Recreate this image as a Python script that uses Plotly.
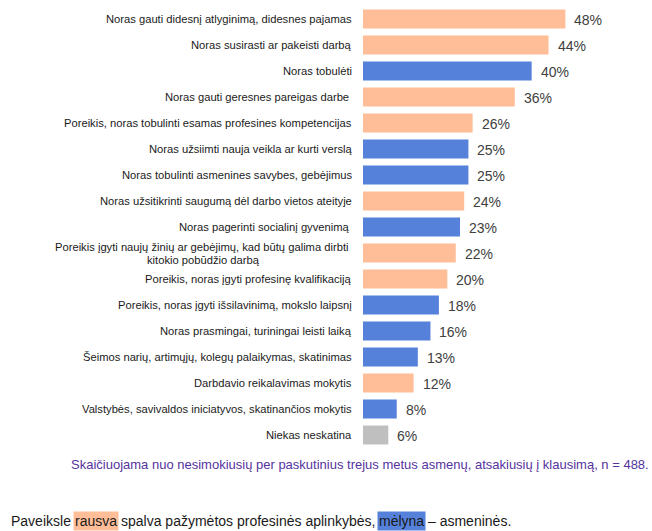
import unicodedata
import plotly.graph_objects as go

categories = [
    "Noras gauti didesnį atlyginimą, didesnes pajamas",
    "Noras susirasti ar pakeisti darbą",
    "Noras tobulėti",
    "Noras gauti geresnes pareigas darbe\u00a0",
    "Poreikis, noras tobulinti esamas profesines kompetencijas",
    "Noras užsiimti nauja veikla ar kurti verslą",
    "Noras tobulinti asmenines savybes, gebėjimus",
    "Noras užsitikrinti saugumą dėl darbo vietos ateityje",
    "Noras pagerinti socialinį gyvenimą\u00a0",
    "Poreikis įgyti naujų žinių ar gebėjimų, kad būtų galima dirbti<br>kitokio pobūdžio darbą",
    "Poreikis, noras įgyti profesinę kvalifikaciją",
    "Poreikis, noras įgyti išsilavinimą, mokslo laipsnį",
    "Noras prasmingai, turiningai leisti laiką",
    "Šeimos narių, artimųjų, kolegų palaikymas, skatinimas",
    "Darbdavio reikalavimas mokytis",
    "Valstybės, savivaldos iniciatyvos, skatinančios mokytis",
    "Niekas neskatina",
]
values = [48, 44, 40, 36, 26, 25, 25, 24, 23, 22, 20, 18, 16, 13, 12, 8, 6]
groups = ["prof", "prof", "pers", "prof", "prof", "pers", "pers", "prof", "pers",
          "prof", "prof", "pers", "pers", "pers", "prof", "pers", "none"]
value_labels = [f"{v}%" for v in values]

footnote = "Skaičiuojama nuo nesimokiusių per paskutinius trejus metus asmenų, atsakiusių į klausimą, n = 488."
legend_parts = [
    ("Paveiksle", None),
    ("rausva", "prof"),
    ("spalva pažymėtos profesinės aplinkybės,", None),
    ("mėlyna", "pers"),
    ("– asmeninės.", None),
]

COLORS = {"prof": "#FFBE98", "pers": "#5581DA", "none": "#BFBFBF"}
FONT = "Liberation Sans, Arial, sans-serif"

W, H = 652, 531
ML, MR, MT, MB = 363, 36, 6, 83
PW, PH = W - ML - MR, H - MT - MB


def px_x(px):
    return (px - ML) / PW


def px_y(py):
    return 1 - (py - MT) / PH


ARIAL = {
    'a': 556, 'b': 556, 'c': 500, 'd': 556, 'e': 556, 'f': 278, 'g': 556, 'h': 556,
    'i': 222, 'j': 222, 'k': 500, 'l': 222, 'm': 833, 'n': 556, 'o': 556, 'p': 556,
    'q': 556, 'r': 333, 's': 500, 't': 278, 'u': 556, 'v': 500, 'w': 722, 'x': 500,
    'y': 500, 'z': 500, ' ': 278, ',': 278, '.': 278, '\u2013': 556, 'P': 667,
}


def text_width(s, size):
    total = 0
    for ch in s:
        base = unicodedata.normalize("NFD", ch)[0]
        total += ARIAL.get(base, 556)
    return total * size / 1000


fig = go.Figure()
fig.add_trace(go.Bar(
    x=values, y=categories, orientation="h",
    marker=dict(color=[COLORS[g] for g in groups], line=dict(width=0)),
    hoverinfo="skip", showlegend=False,
))

annotations = []
LABEL_SIZE = 11.2
for cat, v, lab in zip(categories, values, value_labels):
    if "<br>" in cat:
        l1, l2 = cat.split("<br>")
        w1 = text_width(l1, LABEL_SIZE)
        annotations.append(dict(x=0, xref="paper", y=cat, yref="y", text=l1,
                                xanchor="right", yanchor="middle", xshift=-12, yshift=6,
                                showarrow=False, font=dict(size=LABEL_SIZE, color="#1a1a1a", family=FONT)))
        annotations.append(dict(x=0, xref="paper", y=cat, yref="y", text=l2,
                                xanchor="center", yanchor="middle", xshift=-12 - w1 / 2 - 1, yshift=-7,
                                showarrow=False, font=dict(size=LABEL_SIZE, color="#1a1a1a", family=FONT)))
    else:
        annotations.append(dict(x=0, xref="paper", y=cat, yref="y", text=cat,
                                xanchor="right", yanchor="middle", xshift=-9,
                                showarrow=False, font=dict(size=LABEL_SIZE, color="#1a1a1a", family=FONT)))
    annotations.append(dict(x=v, xref="x", y=cat, yref="y", text=lab,
                            xanchor="left", yanchor="middle", xshift=7, yshift=-1,
                            showarrow=False, font=dict(size=14, color="#404040", family=FONT)))

# footnote
annotations.append(dict(x=px_x(651), xref="paper", y=px_y(464), yref="paper", text=footnote,
                        xanchor="right", yanchor="middle", showarrow=False,
                        font=dict(size=13, color="#55339E", family=FONT)))

# bottom legend sentence
LEG_SIZE = 14
xpos = 9
for txt, key in legend_parts:
    ann = dict(x=px_x(xpos), xref="paper", y=px_y(521), yref="paper", text=txt,
               xanchor="left", yanchor="middle", showarrow=False, borderpad=1,
               font=dict(size=LEG_SIZE, color="#1a1a1a", family=FONT))
    if key:
        ann["bgcolor"] = COLORS[key]
    annotations.append(ann)
    xpos += text_width(txt + " ", LEG_SIZE)

fig.update_layout(
    width=W, height=H,
    margin=dict(l=ML, r=MR, t=MT, b=MB, pad=0),
    paper_bgcolor="white", plot_bgcolor="white",
    bargap=0.27,
    xaxis=dict(range=[0, 60], visible=False, fixedrange=True),
    yaxis=dict(type="category", autorange="reversed", showticklabels=False,
               showgrid=False, zeroline=False, showline=False, ticks="", fixedrange=True),
    annotations=annotations,
    font=dict(family=FONT),
)

fig.write_html("out.html", config={"displayModeBar": False, "staticPlot": True},
               post_script="document.body.style.margin='0';document.body.style.overflow='hidden';")
